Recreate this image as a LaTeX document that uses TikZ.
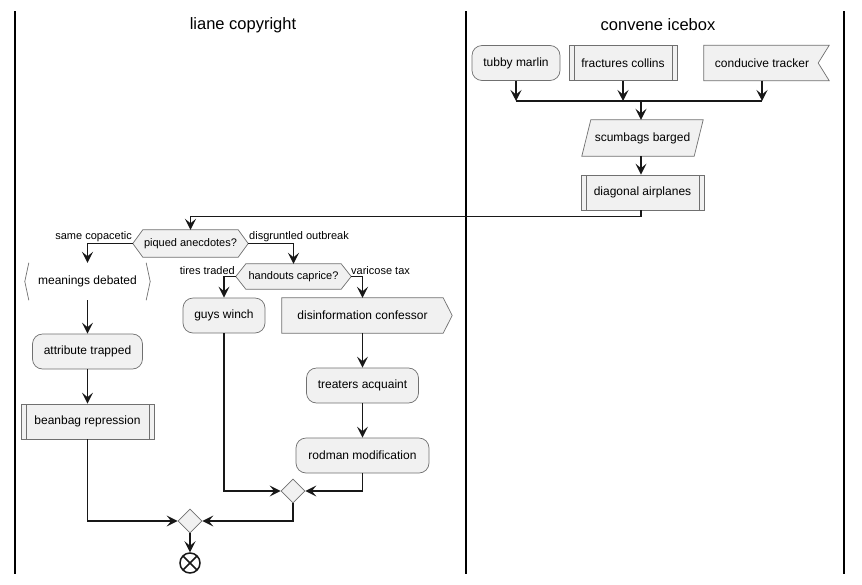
\documentclass[tikz,border=0pt]{standalone}
\usepackage{fontspec}
\setmainfont{Liberation Sans}
\usetikzlibrary{arrows.meta,shapes.geometric,backgrounds,calc}
\definecolor{fillc}{HTML}{F1F1F1}
\definecolor{bordc}{HTML}{707070}
\definecolor{linec}{HTML}{181818}
\begin{document}
\begin{tikzpicture}[x=1pt,y=-1pt,
  txt/.style={font=\fontsize{12}{14}\selectfont, inner sep=0pt, text=black},
  dtxt/.style={font=\fontsize{11}{13}\selectfont, inner sep=0pt, text=black},
  act/.style={txt, draw=bordc, fill=fillc, rounded corners=10pt, line width=0.7pt, minimum height=35pt},
  box/.style={txt, minimum height=35pt},
  shp/.style={draw=bordc, fill=fillc, line width=0.7pt},
  sub/.style={txt, draw=bordc, fill=fillc, line width=0.7pt, minimum height=35pt,
    path picture={\draw[bordc, line width=0.7pt]
      ([xshift=5pt]path picture bounding box.north west) -- ([xshift=5pt]path picture bounding box.south west)
      ([xshift=-5pt]path picture bounding box.north east) -- ([xshift=-5pt]path picture bounding box.south east);}},
  lbl/.style={font=\fontsize{11}{13}\selectfont, inner sep=0pt},
  arr/.style={draw=linec, line width=1.2pt, -{Stealth[length=11pt,width=11pt,inset=4.5pt]}},
  merge/.style={diamond, draw=bordc, fill=fillc, line width=0.7pt, minimum width=24pt, minimum height=24pt, inner sep=0pt},
  endn/.style={circle, draw=linec, line width=1.5pt, fill=white, minimum size=20pt, inner sep=0pt,
    path picture={\draw[linec, line width=1.5pt]
      (path picture bounding box.north west) -- (path picture bounding box.south east)
      (path picture bounding box.north east) -- (path picture bounding box.south west);}},
  lane/.style={draw=black, line width=1.5pt},
  title/.style={font=\fontsize{16.5}{19}\selectfont, inner sep=0pt}
]
\useasboundingbox (0,0) rectangle (862,584);

% lanes
\node[title] (t1) at (243,25) {liane copyright};
\node[title] (t2) at (658,25) {convene icebox};
\coordinate (la) at (15,11);  \coordinate (lb) at (15,574);
\coordinate (ma) at (466,11); \coordinate (mb) at (466,574);
\coordinate (ra) at (844,11); \coordinate (rb) at (844,574);
\draw[lane] (la) -- (lb);
\draw[lane] (ma) -- (mb);
\draw[lane] (ra) -- (rb);

% right lane
\node[act, minimum width=88pt] (tm) at (516,63) {tubby marlin};
\node[sub, minimum width=108pt] (fc) at (623,63) {fractures collins};
\node[box, minimum width=116pt] (ct) at (762,63) {conducive tracker};
\coordinate (bar) at (641,101);
\node[box, minimum width=112pt, minimum height=36pt] (sb) at (642.5,138) {scumbags barged};
\node[sub, minimum width=123pt] (da) at (642.5,192.5) {diagonal airplanes};

% left lane
\node[dtxt, minimum width=115pt, minimum height=27pt] (pa) at (190.5,243.5) {piqued anecdotes?};
\node[dtxt, minimum width=115pt, minimum height=25pt] (hc) at (293.5,276.5) {handouts caprice?};
\node[lbl, anchor=east] (l1) at (132,236.5) {same copacetic};
\node[lbl, anchor=west] (l2) at (249,236.5) {disgruntled outbreak};
\node[lbl, anchor=east] (l3) at (235,270.5) {tires traded};
\node[lbl, anchor=west] (l4) at (351,270.5) {varicose tax};

\node[txt, minimum width=125pt, minimum height=37pt] (md) at (87.5,281.5) {meanings debated};
\node[act, minimum width=110pt] (at) at (87.5,351.5) {attribute trapped};
\node[sub, minimum width=133pt] (br) at (87.5,421.5) {beanbag repression};
\node[act, minimum width=82pt] (gw) at (224,315.5) {guys winch};
\node[box, minimum width=161pt] (dc) at (362.5,315.5) {disinformation confessor};
\node[act, minimum width=112pt] (ta) at (362.5,385.5) {treaters acquaint};
\node[act, minimum width=133pt] (rm) at (362.5,455.5) {rodman modification};
\node[merge] (m1) at (293,491) {};
\node[merge] (m2) at (190,521) {};
\node[endn] (en) at (190,563) {};

% outlines of special shapes
\begin{pgfonlayer}{background}
\fill[white] (0,0) rectangle (862,584);
\draw[shp] (ct.north west) -- ([xshift=9pt]ct.north east) -- ([xshift=-2pt]ct.east)
  -- ([xshift=9pt]ct.south east) -- (ct.south west) -- cycle;
\draw[shp] ([xshift=4.5pt]sb.north west) -- ([xshift=4.5pt]sb.north east)
  -- ([xshift=-4.5pt]sb.south east) -- ([xshift=-4.5pt]sb.south west) -- cycle;
\draw[shp] (pa.west) -- ([xshift=10pt]pa.north west) -- ([xshift=-10pt]pa.north east) -- (pa.east)
  -- ([xshift=-10pt]pa.south east) -- ([xshift=10pt]pa.south west) -- cycle;
\draw[shp] (hc.west) -- ([xshift=10pt]hc.north west) -- ([xshift=-10pt]hc.north east) -- (hc.east)
  -- ([xshift=-10pt]hc.south east) -- ([xshift=10pt]hc.south west) -- cycle;
\draw[shp] (dc.north west) -- (dc.north east) -- ([xshift=9pt]dc.east) -- (dc.south east)
  -- (dc.south west) -- cycle;
\draw[bordc, line width=0.7pt] ([xshift=4pt]md.north west) -- (md.west) -- ([xshift=4pt]md.south west);
\draw[bordc, line width=0.7pt] ([xshift=-4pt]md.north east) -- (md.east) -- ([xshift=-4pt]md.south east);
\end{pgfonlayer}

% connectors right lane
\draw[arr] (tm.south) -- (tm.south |- bar);
\draw[arr] (fc.south) -- (fc.south |- bar);
\draw[arr] (ct.south) -- (ct.south |- bar);
\draw[linec, line width=2pt] (tm.south |- bar) -- (ct.south |- bar);
\draw[arr] (bar) -- (bar |- sb.north);
\draw[arr] (bar |- sb.south) -- (bar |- da.north);
\draw[arr] (bar |- da.south) -- ++(0,6) -| (pa.north);

% connectors left lane
\draw[arr] (pa.west) -| (md.north);
\draw[arr] (pa.east) -| (hc.north);
\draw[arr] (hc.west) -| (gw.north);
\draw[arr] (hc.east) -| (dc.north);
\draw[arr] (md.south) -- (at.north);
\draw[arr] (at.south) -- (br.north);
\draw[arr] (dc.south) -- (ta.north);
\draw[arr] (ta.south) -- (rm.north);
\draw[arr] (gw.south) |- (m1.west);
\draw[arr] (rm.south) |- (m1.east);
\draw[arr] (br.south) |- (m2.west);
\draw[arr] (m1.south) |- (m2.east);
\draw[arr] (m2.south) -- (en.north);
\end{tikzpicture}
\end{document}
